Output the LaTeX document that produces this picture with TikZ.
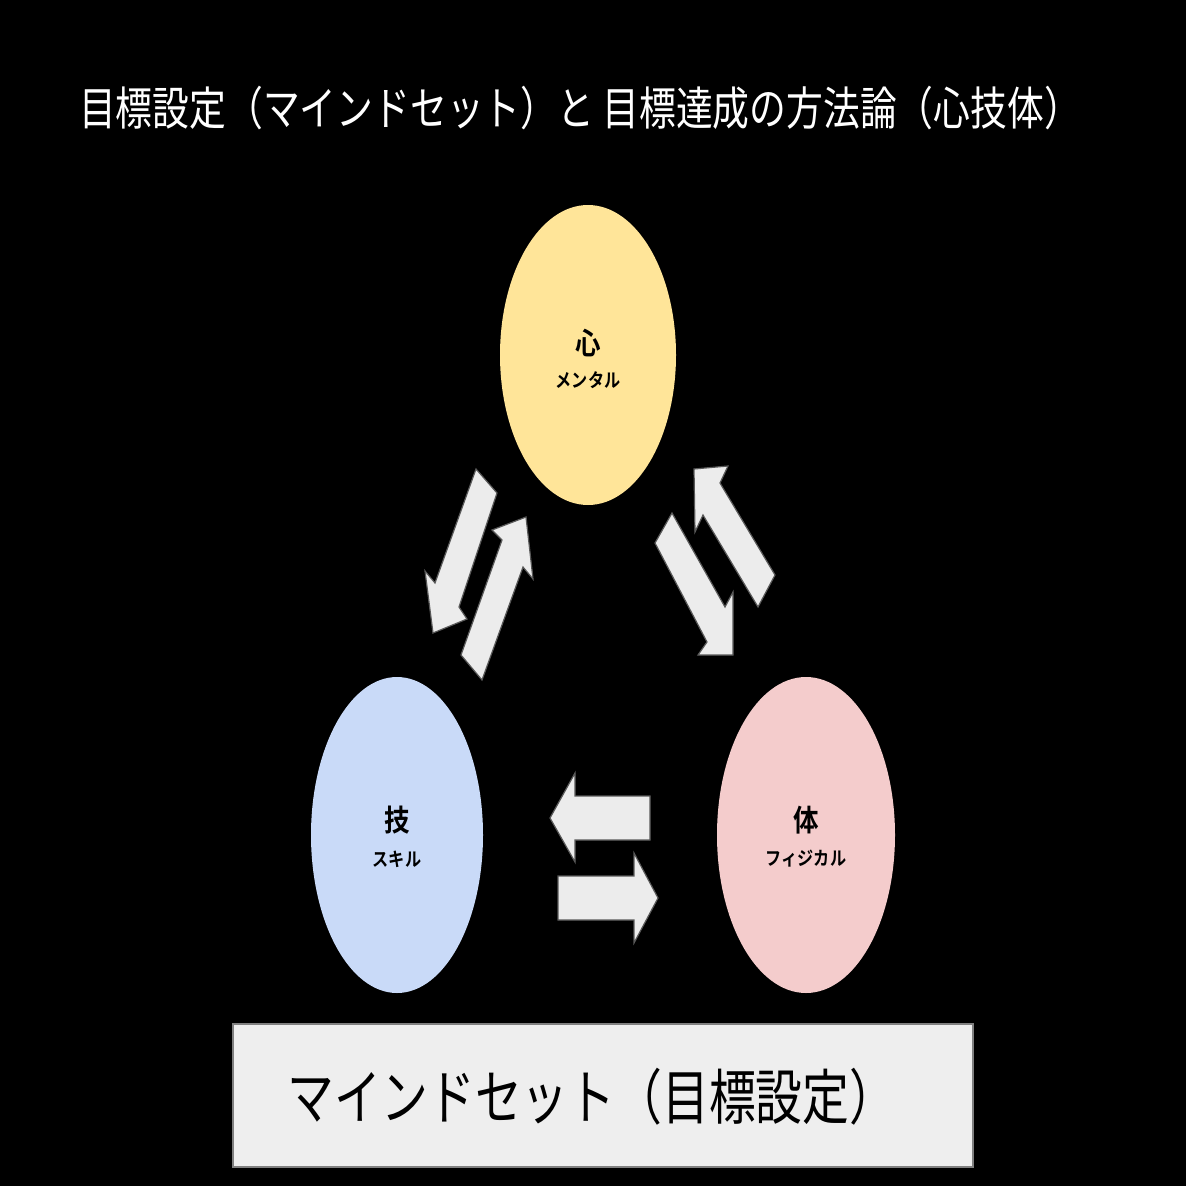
\documentclass[tikz,border=0pt]{standalone}
\usepackage{fontspec}
\newfontfamily\jp{Noto Sans CJK JP}
\newfontfamily\jpb{Noto Sans CJK JP Bold}
\begin{document}
\begin{tikzpicture}[x=1pt,y=-1pt,
  arr/.style={fill=gray!15,draw=gray!70!black,line width=1.2pt,line join=miter},
  big/.style={font=\jpb\fontsize{30}{32}\selectfont,text=black,xscale=0.85},
  small/.style={font=\jpb\fontsize{19}{22}\selectfont,text=black,xscale=0.85}]
\fill[black] (0,0) rectangle (1186,1186);
\useasboundingbox (0,0) rectangle (1186,1186);
\node[text=white,font=\jp\fontsize{46}{50}\selectfont,xscale=0.8] (title) at (580,108) {目標設定（マインドセット）と 目標達成の方法論（心技体）};
\fill[fill={rgb,255:red,255;green,229;blue,153}] (588,355) ellipse [x radius=88,y radius=150];
\node[big] (m1) at (588,343) {心};
\node[small] (m2) at (588,380) {メンタル};
\fill[fill={rgb,255:red,201;green,218;blue,248}] (397,835) ellipse [x radius=86,y radius=158];
\node[big] (s1) at (397,820) {技};
\node[small] (s2) at (397,859) {スキル};
\fill[fill={rgb,255:red,244;green,204;blue,204}] (806,835) ellipse [x radius=89,y radius=158];
\node[big] (p1) at (806,820) {体};
\node[small] (p2) at (806,859) {フィジカル};
% arrows
\draw[arr] (476,469)--(497,493)--(459,607)--(467,619)--(433,633)--(425,571)--(435,583)--cycle;
\draw[arr] (526,517)--(533,579)--(523,567)--(482,680)--(461,655)--(502,540)--(492,530)--cycle;
\draw[arr] (728,466)--(720,483)--(775,575)--(758,607)--(703,515)--(695,532)--(694,469)--cycle;
\draw[arr] (672,513)--(725,607)--(733,592)--(733,655)--(698,655)--(707,642)--(655,543)--cycle;
\draw[arr] (550,818)--(575,773)--(575,796)--(650,796)--(650,840)--(575,840)--(575,862)--cycle;
\draw[arr] (658,898)--(634,853)--(634,876)--(558,876)--(558,920)--(634,920)--(634,943)--cycle;
% bottom box
\draw[fill={rgb,255:red,238;green,238;blue,238},draw=gray,line width=1.5pt] (233,1024) rectangle (973,1167);
\node[font=\jp\fontsize{60}{64}\selectfont,text=black,xscale=0.78] (mind) at (592,1097) {マインドセット（目標設定）};
\end{tikzpicture}
\end{document}
